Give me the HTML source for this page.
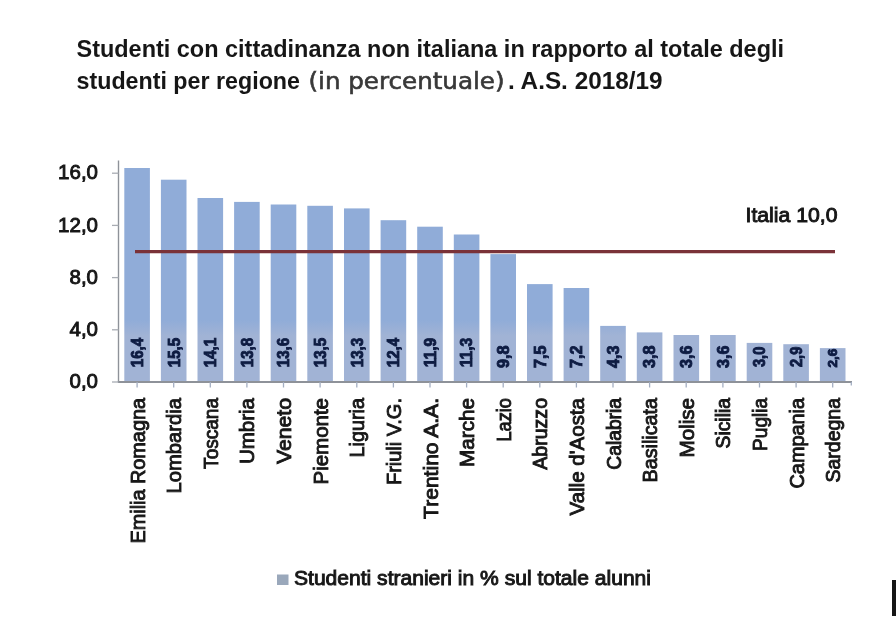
<!DOCTYPE html>
<html lang="it">
<head>
<meta charset="utf-8">
<title>Studenti con cittadinanza non italiana per regione</title>
<style>
html,body{margin:0;padding:0;background:#fff;}
body{width:896px;height:640px;overflow:hidden;position:relative;font-family:"Liberation Sans",sans-serif;}
svg{display:block;position:absolute;left:0;top:0;}
text{font-family:"Liberation Sans",sans-serif;fill:#1a1a1a;}
.t{font-weight:bold;font-size:24.5px;fill:#171717;}
.p{font-family:"DejaVu Sans","Liberation Sans",sans-serif;font-size:23px;fill:#383838;stroke:#383838;stroke-width:0.6px;}
.ax{font-size:20.5px;fill:#141414;stroke:#141414;stroke-width:0.9px;}
.cat{font-size:20.5px;fill:#161616;stroke:#161616;stroke-width:0.9px;}
.val{font-size:16.5px;font-weight:bold;fill:#0e1b42;stroke:#0e1b42;stroke-width:0.9px;}
.lg{font-size:20.5px;fill:#161616;stroke:#161616;stroke-width:0.95px;}
</style>
</head>
<body>
<svg width="896" height="640" viewBox="0 0 896 640">
<defs>
<linearGradient id="bg" gradientUnits="userSpaceOnUse" x1="0" y1="320" x2="0" y2="336">
<stop offset="0" stop-color="#90acd8"/><stop offset="1" stop-color="#a1b3d5"/>
</linearGradient>
<filter id="soft" x="-20" y="-20" width="936" height="680" filterUnits="userSpaceOnUse"><feGaussianBlur stdDeviation="0.65"/></filter>
</defs>
<rect x="0" y="0" width="896" height="640" fill="#ffffff"/>
<g filter="url(#soft)">
<text class="t" x="76.5" y="56.5" textLength="707.5" lengthAdjust="spacingAndGlyphs">Studenti con cittadinanza non italiana in rapporto al totale degli</text>
<text class="t" x="76.5" y="88.5" textLength="223.5" lengthAdjust="spacingAndGlyphs">studenti per regione</text>
<text class="p" x="308.5" y="88.5" textLength="196" lengthAdjust="spacingAndGlyphs">(in percentuale)</text>
<text class="t" x="508" y="88.5" textLength="154.5" lengthAdjust="spacingAndGlyphs">. A.S. 2018/19</text>
<rect x="124.3" y="168.0" width="25.6" height="214.0" fill="url(#bg)"/>
<rect x="160.9" y="179.7" width="25.6" height="202.3" fill="url(#bg)"/>
<rect x="197.5" y="198.0" width="25.6" height="184.0" fill="url(#bg)"/>
<rect x="234.1" y="201.9" width="25.6" height="180.1" fill="url(#bg)"/>
<rect x="270.7" y="204.5" width="25.6" height="177.5" fill="url(#bg)"/>
<rect x="307.3" y="205.8" width="25.6" height="176.2" fill="url(#bg)"/>
<rect x="344.0" y="208.4" width="25.6" height="173.6" fill="url(#bg)"/>
<rect x="380.6" y="220.2" width="25.6" height="161.8" fill="url(#bg)"/>
<rect x="417.2" y="226.7" width="25.6" height="155.3" fill="url(#bg)"/>
<rect x="453.8" y="234.5" width="25.6" height="147.5" fill="url(#bg)"/>
<rect x="490.4" y="254.1" width="25.6" height="127.9" fill="url(#bg)"/>
<rect x="527.0" y="284.1" width="25.6" height="97.9" fill="url(#bg)"/>
<rect x="563.6" y="288.0" width="25.6" height="94.0" fill="url(#bg)"/>
<rect x="600.2" y="325.9" width="25.6" height="56.1" fill="url(#bg)"/>
<rect x="636.8" y="332.4" width="25.6" height="49.6" fill="url(#bg)"/>
<rect x="673.5" y="335.0" width="25.6" height="47.0" fill="url(#bg)"/>
<rect x="710.1" y="335.0" width="25.6" height="47.0" fill="url(#bg)"/>
<rect x="746.7" y="342.9" width="25.6" height="39.1" fill="url(#bg)"/>
<rect x="783.3" y="344.2" width="25.6" height="37.8" fill="url(#bg)"/>
<rect x="819.9" y="348.1" width="25.6" height="33.9" fill="url(#bg)"/>
<line x1="118.5" y1="160.5" x2="118.5" y2="382" stroke="#8e9299" stroke-width="1.4"/>
<line x1="117.8" y1="382" x2="852" y2="382" stroke="#8e9299" stroke-width="1.8"/>
<line x1="112.0" y1="382.0" x2="118.5" y2="382.0" stroke="#a8acb3" stroke-width="1.3"/>
<text class="ax" x="98" y="388.2" text-anchor="end">0,0</text>
<line x1="112.0" y1="329.8" x2="118.5" y2="329.8" stroke="#a8acb3" stroke-width="1.3"/>
<text class="ax" x="98" y="336.0" text-anchor="end">4,0</text>
<line x1="112.0" y1="277.6" x2="118.5" y2="277.6" stroke="#a8acb3" stroke-width="1.3"/>
<text class="ax" x="98" y="283.8" text-anchor="end">8,0</text>
<line x1="112.0" y1="225.4" x2="118.5" y2="225.4" stroke="#a8acb3" stroke-width="1.3"/>
<text class="ax" x="98" y="231.6" text-anchor="end">12,0</text>
<line x1="112.0" y1="173.2" x2="118.5" y2="173.2" stroke="#a8acb3" stroke-width="1.3"/>
<text class="ax" x="98" y="179.4" text-anchor="end">16,0</text>
<line x1="137.1" y1="382" x2="137.1" y2="387.5" stroke="#a3aec2" stroke-width="1.3"/>
<line x1="173.7" y1="382" x2="173.7" y2="387.5" stroke="#a3aec2" stroke-width="1.3"/>
<line x1="210.3" y1="382" x2="210.3" y2="387.5" stroke="#a3aec2" stroke-width="1.3"/>
<line x1="246.9" y1="382" x2="246.9" y2="387.5" stroke="#a3aec2" stroke-width="1.3"/>
<line x1="283.5" y1="382" x2="283.5" y2="387.5" stroke="#a3aec2" stroke-width="1.3"/>
<line x1="320.1" y1="382" x2="320.1" y2="387.5" stroke="#a3aec2" stroke-width="1.3"/>
<line x1="356.8" y1="382" x2="356.8" y2="387.5" stroke="#a3aec2" stroke-width="1.3"/>
<line x1="393.4" y1="382" x2="393.4" y2="387.5" stroke="#a3aec2" stroke-width="1.3"/>
<line x1="430.0" y1="382" x2="430.0" y2="387.5" stroke="#a3aec2" stroke-width="1.3"/>
<line x1="466.6" y1="382" x2="466.6" y2="387.5" stroke="#a3aec2" stroke-width="1.3"/>
<line x1="503.2" y1="382" x2="503.2" y2="387.5" stroke="#a3aec2" stroke-width="1.3"/>
<line x1="539.8" y1="382" x2="539.8" y2="387.5" stroke="#a3aec2" stroke-width="1.3"/>
<line x1="576.4" y1="382" x2="576.4" y2="387.5" stroke="#a3aec2" stroke-width="1.3"/>
<line x1="613.0" y1="382" x2="613.0" y2="387.5" stroke="#a3aec2" stroke-width="1.3"/>
<line x1="649.6" y1="382" x2="649.6" y2="387.5" stroke="#a3aec2" stroke-width="1.3"/>
<line x1="686.2" y1="382" x2="686.2" y2="387.5" stroke="#a3aec2" stroke-width="1.3"/>
<line x1="722.9" y1="382" x2="722.9" y2="387.5" stroke="#a3aec2" stroke-width="1.3"/>
<line x1="759.5" y1="382" x2="759.5" y2="387.5" stroke="#a3aec2" stroke-width="1.3"/>
<line x1="796.1" y1="382" x2="796.1" y2="387.5" stroke="#a3aec2" stroke-width="1.3"/>
<line x1="832.7" y1="382" x2="832.7" y2="387.5" stroke="#a3aec2" stroke-width="1.3"/>
<line x1="851.3" y1="382" x2="851.3" y2="385.5" stroke="#a3aec2" stroke-width="1.3"/>
<line x1="135" y1="251.6" x2="835" y2="251.6" stroke="#7a3037" stroke-width="3.3"/>
<text class="ax" x="745.5" y="222" textLength="92" lengthAdjust="spacingAndGlyphs">Italia 10,0</text>
<text class="val" transform="translate(142.9,367.3) rotate(-90)" textLength="29.5" lengthAdjust="spacingAndGlyphs">16,4</text>
<text class="cat" transform="translate(144.6,398) rotate(-90)" text-anchor="end" textLength="145.5" lengthAdjust="spacingAndGlyphs">Emilia Romagna</text>
<text class="val" transform="translate(179.5,367.3) rotate(-90)" textLength="29.5" lengthAdjust="spacingAndGlyphs">15,5</text>
<text class="cat" transform="translate(181.2,398) rotate(-90)" text-anchor="end" textLength="95.5" lengthAdjust="spacingAndGlyphs">Lombardia</text>
<text class="val" transform="translate(216.1,367.3) rotate(-90)" textLength="29.5" lengthAdjust="spacingAndGlyphs">14,1</text>
<text class="cat" transform="translate(217.8,398) rotate(-90)" text-anchor="end" textLength="70.9" lengthAdjust="spacingAndGlyphs">Toscana</text>
<text class="val" transform="translate(252.7,367.3) rotate(-90)" textLength="29.5" lengthAdjust="spacingAndGlyphs">13,8</text>
<text class="cat" transform="translate(254.4,398) rotate(-90)" text-anchor="end" textLength="66.1" lengthAdjust="spacingAndGlyphs">Umbria</text>
<text class="val" transform="translate(289.3,367.3) rotate(-90)" textLength="29.5" lengthAdjust="spacingAndGlyphs">13,6</text>
<text class="cat" transform="translate(291.0,398) rotate(-90)" text-anchor="end" textLength="66.1" lengthAdjust="spacingAndGlyphs">Veneto</text>
<text class="val" transform="translate(325.9,367.3) rotate(-90)" textLength="29.5" lengthAdjust="spacingAndGlyphs">13,5</text>
<text class="cat" transform="translate(327.6,398) rotate(-90)" text-anchor="end" textLength="86.5" lengthAdjust="spacingAndGlyphs">Piemonte</text>
<text class="val" transform="translate(362.6,367.3) rotate(-90)" textLength="29.5" lengthAdjust="spacingAndGlyphs">13,3</text>
<text class="cat" transform="translate(364.3,398) rotate(-90)" text-anchor="end" textLength="59.5" lengthAdjust="spacingAndGlyphs">Liguria</text>
<text class="val" transform="translate(399.2,367.3) rotate(-90)" textLength="29.5" lengthAdjust="spacingAndGlyphs">12,4</text>
<text class="cat" transform="translate(400.9,398) rotate(-90)" text-anchor="end" textLength="87.1" lengthAdjust="spacingAndGlyphs">Friuli V.G.</text>
<text class="val" transform="translate(435.8,367.3) rotate(-90)" textLength="29.5" lengthAdjust="spacingAndGlyphs">11,9</text>
<text class="cat" transform="translate(437.5,398) rotate(-90)" text-anchor="end" textLength="120.9" lengthAdjust="spacingAndGlyphs">Trentino A.A.</text>
<text class="val" transform="translate(472.4,367.3) rotate(-90)" textLength="29.5" lengthAdjust="spacingAndGlyphs">11,3</text>
<text class="cat" transform="translate(474.1,398) rotate(-90)" text-anchor="end" textLength="68.9" lengthAdjust="spacingAndGlyphs">Marche</text>
<text class="val" transform="translate(509.0,368) rotate(-90)" textLength="22.5" lengthAdjust="spacingAndGlyphs">9,8</text>
<text class="cat" transform="translate(510.7,398) rotate(-90)" text-anchor="end" textLength="43.5" lengthAdjust="spacingAndGlyphs">Lazio</text>
<text class="val" transform="translate(545.6,368) rotate(-90)" textLength="22.5" lengthAdjust="spacingAndGlyphs">7,5</text>
<text class="cat" transform="translate(547.3,398) rotate(-90)" text-anchor="end" textLength="71.7" lengthAdjust="spacingAndGlyphs">Abruzzo</text>
<text class="val" transform="translate(582.2,368) rotate(-90)" textLength="22.5" lengthAdjust="spacingAndGlyphs">7,2</text>
<text class="cat" transform="translate(583.9,398) rotate(-90)" text-anchor="end" textLength="117.5" lengthAdjust="spacingAndGlyphs">Valle d'Aosta</text>
<text class="val" transform="translate(618.8,368) rotate(-90)" textLength="22.5" lengthAdjust="spacingAndGlyphs">4,3</text>
<text class="cat" transform="translate(620.5,398) rotate(-90)" text-anchor="end" textLength="71.7" lengthAdjust="spacingAndGlyphs">Calabria</text>
<text class="val" transform="translate(655.4,368) rotate(-90)" textLength="22.5" lengthAdjust="spacingAndGlyphs">3,8</text>
<text class="cat" transform="translate(657.1,398) rotate(-90)" text-anchor="end" textLength="84.5" lengthAdjust="spacingAndGlyphs">Basilicata</text>
<text class="val" transform="translate(692.0,368) rotate(-90)" textLength="22.5" lengthAdjust="spacingAndGlyphs">3,6</text>
<text class="cat" transform="translate(693.8,398) rotate(-90)" text-anchor="end" textLength="59.5" lengthAdjust="spacingAndGlyphs">Molise</text>
<text class="val" transform="translate(728.7,368) rotate(-90)" textLength="22.5" lengthAdjust="spacingAndGlyphs">3,6</text>
<text class="cat" transform="translate(730.4,398) rotate(-90)" text-anchor="end" textLength="50.5" lengthAdjust="spacingAndGlyphs">Sicilia</text>
<text class="val" transform="translate(765.3,367) rotate(-90)" textLength="20.3" lengthAdjust="spacingAndGlyphs">3,0</text>
<text class="cat" transform="translate(767.0,398) rotate(-90)" text-anchor="end" textLength="52.9" lengthAdjust="spacingAndGlyphs">Puglia</text>
<text class="val" transform="translate(801.9,367) rotate(-90)" textLength="20.3" lengthAdjust="spacingAndGlyphs">2,9</text>
<text class="cat" transform="translate(803.6,398) rotate(-90)" text-anchor="end" textLength="90.5" lengthAdjust="spacingAndGlyphs">Campania</text>
<text class="val" style="font-size:13px" transform="translate(837.1,367.5) rotate(-90)" textLength="18.8" lengthAdjust="spacingAndGlyphs">2,6</text>
<text class="cat" transform="translate(840.2,398) rotate(-90)" text-anchor="end" textLength="84.5" lengthAdjust="spacingAndGlyphs">Sardegna</text>
<rect x="277" y="574.5" width="11.5" height="10.5" fill="#9aa8bb"/>
<text class="lg" x="294" y="584.5" textLength="357" lengthAdjust="spacingAndGlyphs">Studenti stranieri in % sul totale alunni</text>
<rect x="892" y="580" width="14" height="36" fill="#141414"/>
</g>
</svg>
</body>
</html>
